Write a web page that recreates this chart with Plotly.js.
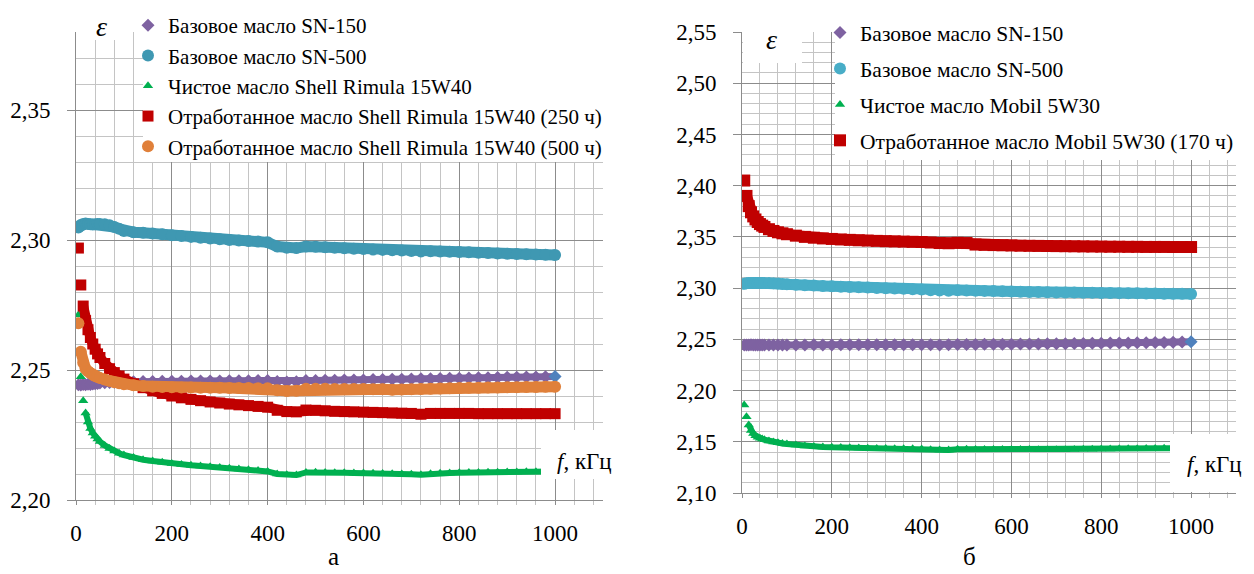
<!DOCTYPE html>
<html><head><meta charset="utf-8">
<script src="https://cdn.plot.ly/plotly-3.0.1.min.js"></script>
<style>html,body{margin:0;padding:0;background:#fff}#chart{width:1254px;height:574px}</style>
</head><body><div id="chart"></div>
<script>
// ---- data ----
const freq = [5,10,15,20,25,30,35,40,45,50,60,70,80,90,100,120,140,160,180,200,220,240,260,280,300,320,340,360,380,400,420,440,460,480,500,520,540,560,580,600,620,640,660,680,700,720,740,760,780,800,820,840,860,880,900,920,940,960,980,1000];

const namesA = ['Базовое масло SN-150','Базовое масло SN-500','Чистое масло Shell Rimula 15W40','Отработанное масло Shell Rimula 15W40 (250 ч)','Отработанное масло Shell Rimula 15W40 (500 ч)'];
const namesB = ['Базовое масло SN-150','Базовое масло SN-500','Чистое масло Mobil 5W30','Отработанное масло Mobil 5W30 (170 ч)'];

const a_sn150 = [2.2443,2.2442,2.2444,2.2443,2.2445,2.2444,2.2446,2.2447,2.2448,2.2450,2.2451,2.2452,2.2453,2.2454,2.2455,2.2455,2.2456,2.2456,2.2457,2.2457,2.2457,2.2458,2.2458,2.2458,2.2458,2.2459,2.2459,2.2459,2.2460,2.2460,2.2456,2.2454,2.2455,2.2460,2.2460,2.2461,2.2461,2.2462,2.2462,2.2462,2.2463,2.2463,2.2464,2.2464,2.2465,2.2466,2.2466,2.2467,2.2468,2.2468,2.2469,2.2470,2.2470,2.2471,2.2472,2.2472,2.2473,2.2473,2.2474,2.2475];
const a_sn500 = [2.3048,2.3058,2.3062,2.3063,2.3062,2.3061,2.3060,2.3061,2.3062,2.3062,2.3061,2.3057,2.3050,2.3043,2.3035,2.3030,2.3028,2.3025,2.3022,2.3018,2.3015,2.3012,2.3009,2.3006,2.3003,2.3000,2.2998,2.2996,2.2994,2.2991,2.2975,2.2970,2.2969,2.2975,2.2974,2.2972,2.2970,2.2968,2.2966,2.2965,2.2963,2.2962,2.2961,2.2960,2.2958,2.2956,2.2957,2.2956,2.2955,2.2954,2.2953,2.2951,2.2950,2.2948,2.2947,2.2946,2.2945,2.2944,2.2943,2.2942];
const a_clean = [2.2712,2.2474,2.2382,2.2335,2.2300,2.2275,2.2258,2.2245,2.2235,2.2225,2.2210,2.2198,2.2188,2.2180,2.2173,2.2163,2.2155,2.2150,2.2145,2.2140,2.2137,2.2134,2.2131,2.2128,2.2125,2.2122,2.2119,2.2116,2.2113,2.2110,2.2100,2.2097,2.2096,2.2106,2.2107,2.2106,2.2105,2.2105,2.2104,2.2104,2.2103,2.2102,2.2101,2.2100,2.2099,2.2097,2.2101,2.2103,2.2104,2.2105,2.2106,2.2106,2.2107,2.2107,2.2108,2.2108,2.2109,2.2109,2.2110,2.2110];
const a_used250 = [2.2969,2.2827,2.2746,2.2690,2.2655,2.2625,2.2600,2.2580,2.2562,2.2548,2.2525,2.2505,2.2490,2.2477,2.2465,2.2447,2.2432,2.2420,2.2410,2.2400,2.2393,2.2387,2.2382,2.2377,2.2373,2.2369,2.2366,2.2363,2.2360,2.2357,2.2345,2.2340,2.2339,2.2346,2.2345,2.2343,2.2341,2.2340,2.2339,2.2338,2.2337,2.2336,2.2335,2.2334,2.2333,2.2330,2.2333,2.2333,2.2333,2.2333,2.2333,2.2332,2.2332,2.2332,2.2332,2.2332,2.2332,2.2332,2.2332,2.2332];
const a_used500 = [2.2680,2.2570,2.2528,2.2505,2.2495,2.2488,2.2482,2.2477,2.2473,2.2469,2.2463,2.2458,2.2453,2.2449,2.2445,2.2441,2.2438,2.2436,2.2435,2.2434,2.2433,2.2433,2.2432,2.2432,2.2432,2.2431,2.2431,2.2431,2.2430,2.2430,2.2422,2.2419,2.2420,2.2428,2.2428,2.2428,2.2427,2.2427,2.2427,2.2427,2.2426,2.2426,2.2424,2.2425,2.2426,2.2427,2.2428,2.2429,2.2430,2.2431,2.2432,2.2432,2.2433,2.2433,2.2434,2.2434,2.2435,2.2435,2.2436,2.2436];

const b_sn150 = [2.2445,2.2444,2.2445,2.2446,2.2445,2.2444,2.2445,2.2445,2.2444,2.2445,2.2445,2.2444,2.2445,2.2445,2.2445,2.2445,2.2445,2.2446,2.2445,2.2445,2.2446,2.2446,2.2446,2.2446,2.2446,2.2447,2.2447,2.2447,2.2447,2.2448,2.2446,2.2445,2.2446,2.2449,2.2450,2.2450,2.2451,2.2452,2.2452,2.2453,2.2454,2.2455,2.2455,2.2456,2.2457,2.2458,2.2459,2.2460,2.2461,2.2462,2.2463,2.2464,2.2465,2.2466,2.2467,2.2468,2.2470,2.2472,2.2474,2.2477];
const b_sn500 = [2.3042,2.3048,2.3050,2.3051,2.3051,2.3051,2.3050,2.3050,2.3050,2.3050,2.3049,2.3047,2.3044,2.3041,2.3038,2.3033,2.3029,2.3025,2.3021,2.3017,2.3014,2.3011,2.3008,2.3005,2.3002,2.2999,2.2996,2.2993,2.2990,2.2987,2.2980,2.2976,2.2975,2.2978,2.2977,2.2975,2.2973,2.2971,2.2969,2.2967,2.2965,2.2963,2.2961,2.2960,2.2958,2.2957,2.2956,2.2955,2.2954,2.2953,2.2952,2.2951,2.2950,2.2949,2.2948,2.2947,2.2946,2.2945,2.2944,2.2943];
const b_clean = [2.1860,2.1745,2.1664,2.1610,2.1580,2.1560,2.1545,2.1535,2.1527,2.1520,2.1508,2.1498,2.1490,2.1484,2.1478,2.1468,2.1460,2.1455,2.1450,2.1446,2.1443,2.1441,2.1439,2.1437,2.1435,2.1434,2.1433,2.1432,2.1431,2.1430,2.1423,2.1420,2.1420,2.1426,2.1426,2.1425,2.1425,2.1425,2.1424,2.1424,2.1424,2.1424,2.1423,2.1423,2.1423,2.1422,2.1425,2.1427,2.1428,2.1429,2.1430,2.1431,2.1432,2.1433,2.1434,2.1435,2.1436,2.1437,2.1438,2.1439];
const b_used170 = [2.4050,2.3900,2.3800,2.3740,2.3700,2.3670,2.3645,2.3625,2.3610,2.3597,2.3575,2.3558,2.3545,2.3535,2.3526,2.3512,2.3500,2.3492,2.3485,2.3480,2.3475,2.3471,2.3467,2.3464,2.3461,2.3458,2.3456,2.3454,2.3452,2.3450,2.3445,2.3440,2.3438,2.3442,2.3440,2.3425,2.3422,2.3420,2.3418,2.3416,2.3414,2.3413,2.3412,2.3411,2.3410,2.3409,2.3408,2.3407,2.3406,2.3405,2.3404,2.3404,2.3403,2.3403,2.3402,2.3402,2.3402,2.3401,2.3401,2.3401];

// ---- styling ----
const W = 1254, H = 574;
const SERIF = 'Liberation Serif';
const PURPLE = '#7E62A1', TEAL_A = '#3F98B2', TEAL_B = '#48ADC7', GREEN = '#00B050', RED = '#C00000', ORANGE = '#E0803A', LASTBLUE = '#4F81BD';
const px = v => v / W, py = v => 1 - v / H;

// each series: a thick connecting band (no legend entry) under its markers, so the dense
// measurement points read as a continuous band like in the original
function series(x, y, name, color, symbol, size, band, xa, ya, leg, grp, startLine) {
  const lineColor = Array.isArray(color) ? PURPLE : color;
  return [
    {type:'scatter', mode:'lines', x: x.slice(startLine), y: y.slice(startLine), xaxis:xa, yaxis:ya, showlegend:false,
      legend:leg, line:{color:lineColor, width:band}, hoverinfo:'skip'},
    {type:'scatter', mode:'markers', x, y, name, xaxis:xa, yaxis:ya, legend:leg, legendgroup:grp,
      marker:{color, symbol, size, line:{width:0}}, hoverinfo:'skip'}
  ];
}
const lastBlue = arr => arr.map((v,i)=> i===arr.length-1 ? LASTBLUE : PURPLE);

const data = [].concat(
  series(freq, a_sn150, namesA[0], lastBlue(a_sn150), 'diamond', 10, 7, 'x', 'y', 'legend', 'a1', 0),
  series(freq, a_sn500, namesA[1], TEAL_A, 'circle', 12, 11, 'x', 'y', 'legend', 'a2', 0),
  series(freq, a_clean, namesA[2], GREEN, 'triangle-up', 9, 6, 'x', 'y', 'legend', 'a3', 3),
  series(freq, a_used250, namesA[3], RED, 'square', 11, 10, 'x', 'y', 'legend', 'a4', 2),
  series(freq, a_used500, namesA[4], ORANGE, 'circle', 12, 11, 'x', 'y', 'legend', 'a5', 1),
  series(freq, b_sn150, namesB[0], lastBlue(b_sn150), 'diamond', 10, 7, 'x2', 'y2', 'legend2', 'b1', 0),
  series(freq, b_sn500, namesB[1], TEAL_B, 'circle', 12, 11, 'x2', 'y2', 'legend2', 'b2', 0),
  series(freq, b_clean, namesB[2], GREEN, 'triangle-up', 9, 6, 'x2', 'y2', 'legend2', 'b3', 2),
  series(freq, b_used170, namesB[3], RED, 'square', 12, 11, 'x2', 'y2', 'legend2', 'b4', 1)
);

const MAJ = '#8C8C8C', MIN = '#C4C4C4';
function xax(domain) {
  return {domain, range:[0,1100], tick0:0, dtick:200, tickformat:'d', showgrid:true, gridcolor:MAJ, gridwidth:1,
    zeroline:false, showline:true, linecolor:MAJ, linewidth:1, ticks:'outside', ticklen:4, tickcolor:MAJ,
    ticklabelstandoff:8, tickfont:{family:SERIF, size:23, color:'#000'},
    minor:{dtick:40, showgrid:true, gridcolor:MIN, gridwidth:1, ticks:'outside', ticklen:4, tickcolor:MIN},
    fixedrange:true};
}
function yax(domain, range, anchor) {
  return {domain, range, tick0:2.2, dtick:0.05, tickformat:'.2f', showgrid:true, gridcolor:MAJ, gridwidth:1,
    zeroline:false, showline:true, linecolor:MAJ, linewidth:1, ticks:'outside', ticklen:8, tickcolor:MAJ,
    ticklabelstandoff:12, tickfont:{family:SERIF, size:23, color:'#000'}, anchor,
    minor:{dtick:0.01, showgrid:true, gridcolor:MIN, gridwidth:1},
    fixedrange:true};
}

function whiteBox(x0, y0, x1, y1) {
  return {type:'rect', xref:'paper', yref:'paper', x0:px(x0), x1:px(x1), y0:py(y1), y1:py(y0),
    fillcolor:'#fff', line:{width:0}, layer:'above'};
}
function label(x, y, text, size) {
  return {xref:'paper', yref:'paper', x:px(x), y:py(y), xanchor:'center', yanchor:'middle', text, showarrow:false,
    font:{family:SERIF, size, color:'#000'}};
}

const layout = {
  width:W, height:H, margin:{l:0, r:0, t:0, b:0}, paper_bgcolor:'#fff', plot_bgcolor:'#fff',
  font:{family:SERIF, color:'#000'},
  separators:', ', showlegend:true,
  xaxis: xax([px(76), px(603)]),
  yaxis: yax([1-500/H, 1-32/H], [2.20, 2.38], 'x'),
  xaxis2: Object.assign(xax([px(742), px(1236)]), {anchor:'y2'}),
  yaxis2: Object.assign(yax([1-493/H, 1-32/H], [2.10, 2.55], 'x2'), {tick0:2.1}),
  legend:{x:px(128), y:py(5), xanchor:'left', yanchor:'top', bgcolor:'rgba(0,0,0,0)', borderwidth:0,
    font:{family:SERIF, size:21, color:'#000'}, tracegroupgap:0, itemclick:false, itemdoubleclick:false},
  legend2:{x:px(820), y:py(12), xanchor:'left', yanchor:'top', bgcolor:'rgba(0,0,0,0)', borderwidth:0,
    font:{family:SERIF, size:21.5, color:'#000'}, tracegroupgap:5, itemclick:false, itemdoubleclick:false},
  shapes:[
    whiteBox(143, 0, 603, 162),
    whiteBox(78, 0, 133, 40),
    whiteBox(541, 430, 603, 479),
    whiteBox(835, 0, 1236, 160),
    whiteBox(743, 0, 802, 63),
    whiteBox(1170, 434, 1236, 492),
  ],
  annotations:[
    label(101, 27, '<i>ε</i>', 28),
    label(771, 40, '<i>ε</i>', 28),
    label(584, 461, '<i>f</i>, кГц', 23),
    label(1214, 464, '<i>f</i>, кГц', 23),
    label(333, 556, 'а', 25),
    label(969, 556, 'б', 25),
  ]
};

Plotly.newPlot('chart', data, layout, {staticPlot:true, displayModeBar:false});
</script></body></html>
